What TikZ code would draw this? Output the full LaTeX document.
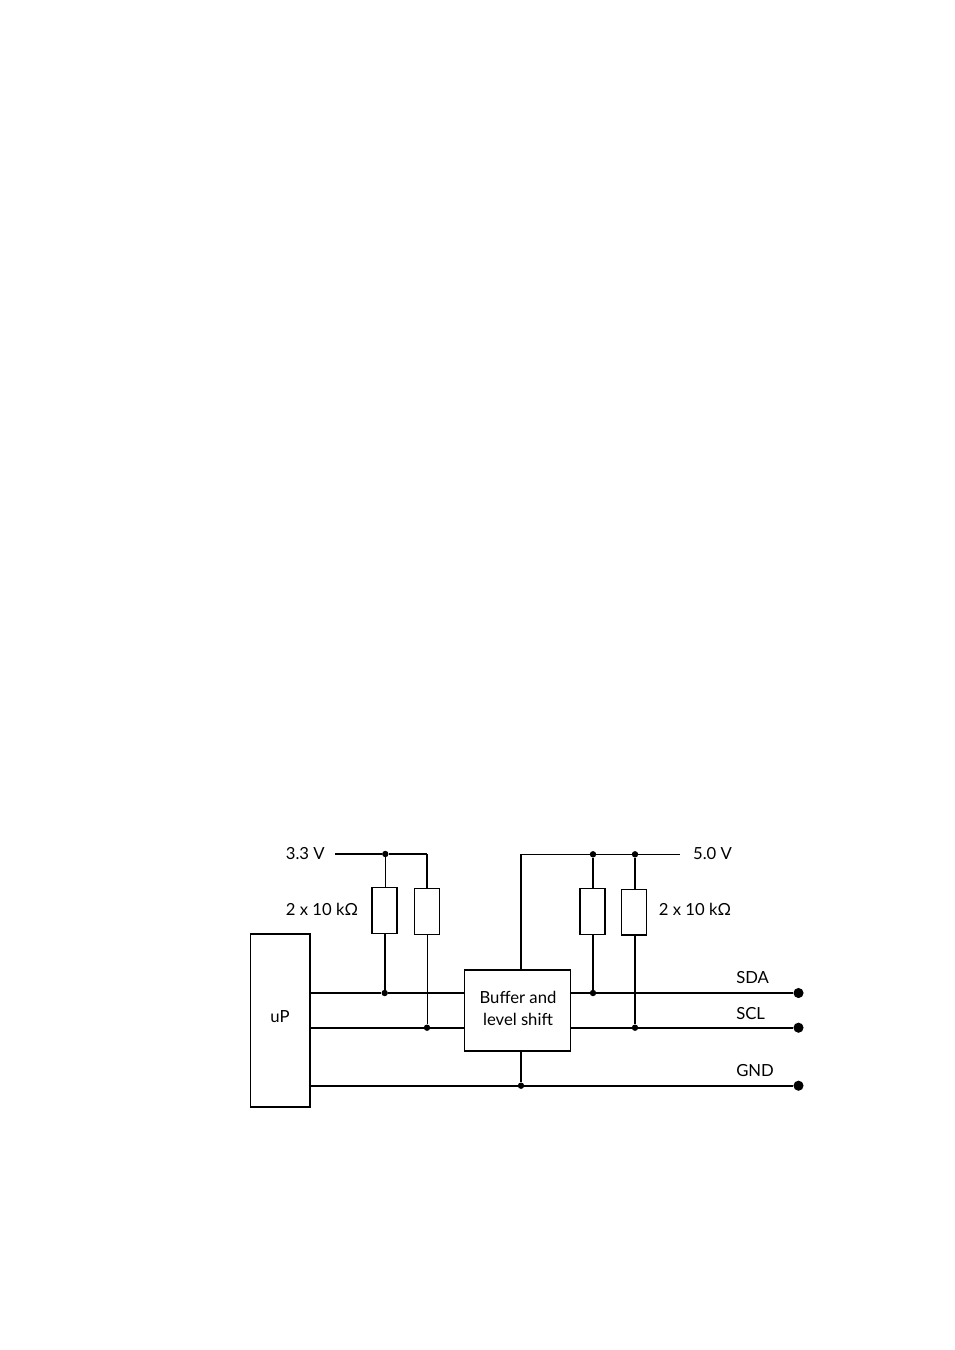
\documentclass[tikz,border=0pt]{standalone}
\usepackage{fontspec}
\setmainfont{Lato}
\begin{document}
\begin{tikzpicture}[x=0.75pt,y=-0.75pt,
  box/.style={draw,rectangle,inner sep=0pt,line width=1.05pt,align=center},
  res/.style={draw,rectangle,inner sep=0pt,minimum width=18.8pt,minimum height=34.4pt,line width=1.25pt},
  dot/.style={circle,fill=black,inner sep=0pt,minimum size=4.8pt},
  enddot/.style={circle,fill=black,inner sep=0pt,minimum size=7.6pt},
  thickw/.style={line width=1.2pt},
  midw/.style={line width=0.8pt},
  thinw/.style={line width=0.6pt},
  lab/.style={inner sep=0pt,font=\fontsize{12.5pt}{17pt}\selectfont,align=center}]
\useasboundingbox (0,0) rectangle (954,1350);
\fill[white] (0,0) rectangle (954,1350);
% blocks
\node[box,minimum width=44.6pt,minimum height=129.8pt] (up) at (280.3,1020.5) {};
\node[lab] (uplab) at (280,1016.5) {uP};
\node[box,minimum width=79.5pt,minimum height=60.8pt] (buf) at (517.7,1010.5) {};
\node[lab] (buflab) at (518,1008.5) {Buffer and\\level shift};
\node[res] (r1) at (384.7,910.5) {};
\node[res,line width=1pt] (r2) at (426.9,911.3) {};
\node[res,line width=1pt] (r3) at (592.4,911.7) {};
\node[res,line width=1.1pt] (r4) at (634.2,912.2) {};
% rails and junctions
\coordinate (a) at (335,854);
\coordinate (b) at (427,854);
\coordinate (c) at (521,854.3);
\coordinate (d) at (680,854.3);
\node[dot] (j1) at (385.3,854) {};
\node[dot] (j3) at (593,854.3) {};
\node[dot] (j4) at (635,854.3) {};
\node[dot] (j5) at (384.7,993) {};
\node[dot] (j6) at (427,1027.7) {};
\node[dot] (j7) at (593,993) {};
\node[dot] (j8) at (635,1027.7) {};
\node[dot] (j9) at (521,1085.7) {};
\node[enddot] (sda) at (798.5,993) {};
\node[enddot] (scl) at (798.5,1027.7) {};
\node[enddot] (gnd) at (798.5,1085.7) {};
\coordinate (upa) at (310,993);
\coordinate (upb) at (310,1027.7);
\coordinate (upc) at (310,1085.7);
\coordinate (bufwl) at (465,993);
\coordinate (bufsl) at (465,1027.7);
\coordinate (bufwr) at (570.5,993);
\coordinate (bufsr) at (570.5,1027.7);
\coordinate (buft) at (521,970);
\coordinate (bufb) at (521,1051);
% wires
\draw[thickw] (a) -- (j1);
\draw[thickw] (j1) -- (b);
\draw[midw] (b) -- (b |- r2.north);
\draw[thinw] (j1) -- (j1 |- r1.north);
\draw[thickw] (j5 |- r1.south) -- (j5);
\draw[thinw] (j6 |- r2.south) -- (j6);
\draw[thinw] (c) -- (j3) -- (j4) -- (d);
\draw[thickw] (buft) -- (c);
\draw[thickw] (j3) -- (j3 |- r3.north);
\draw[thickw] (j4) -- (j4 |- r4.north);
\draw[thickw] (j7 |- r3.south) -- (j7);
\draw[thickw] (j8 |- r4.south) -- (j8);
\draw[thickw] (upa) -- (j5) -- (bufwl);
\draw[thickw] (upb) -- (j6) -- (bufsl);
\draw[thickw] (upc) -- (j9) -- (gnd);
\draw[thickw] (bufb) -- (j9);
\draw[thickw] (bufwr) -- (j7) -- (sda);
\draw[thickw] (bufsr) -- (j8) -- (scl);
% labels
\node[lab] (l33) at (305.3,854) {3.3 V};
\node[lab] (l50) at (712.5,854) {5.0 V};
\node[lab] (lr1) at (322,909.5) {2 x 10 kΩ};
\node[lab] (lr2) at (695,909.5) {2 x 10 kΩ};
\node[lab,anchor=west] (lsda) at (736,978) {SDA};
\node[lab,anchor=west] (lscl) at (736,1014) {SCL};
\node[lab,anchor=west] (lgnd) at (736,1071) {GND};
\end{tikzpicture}
\end{document}
